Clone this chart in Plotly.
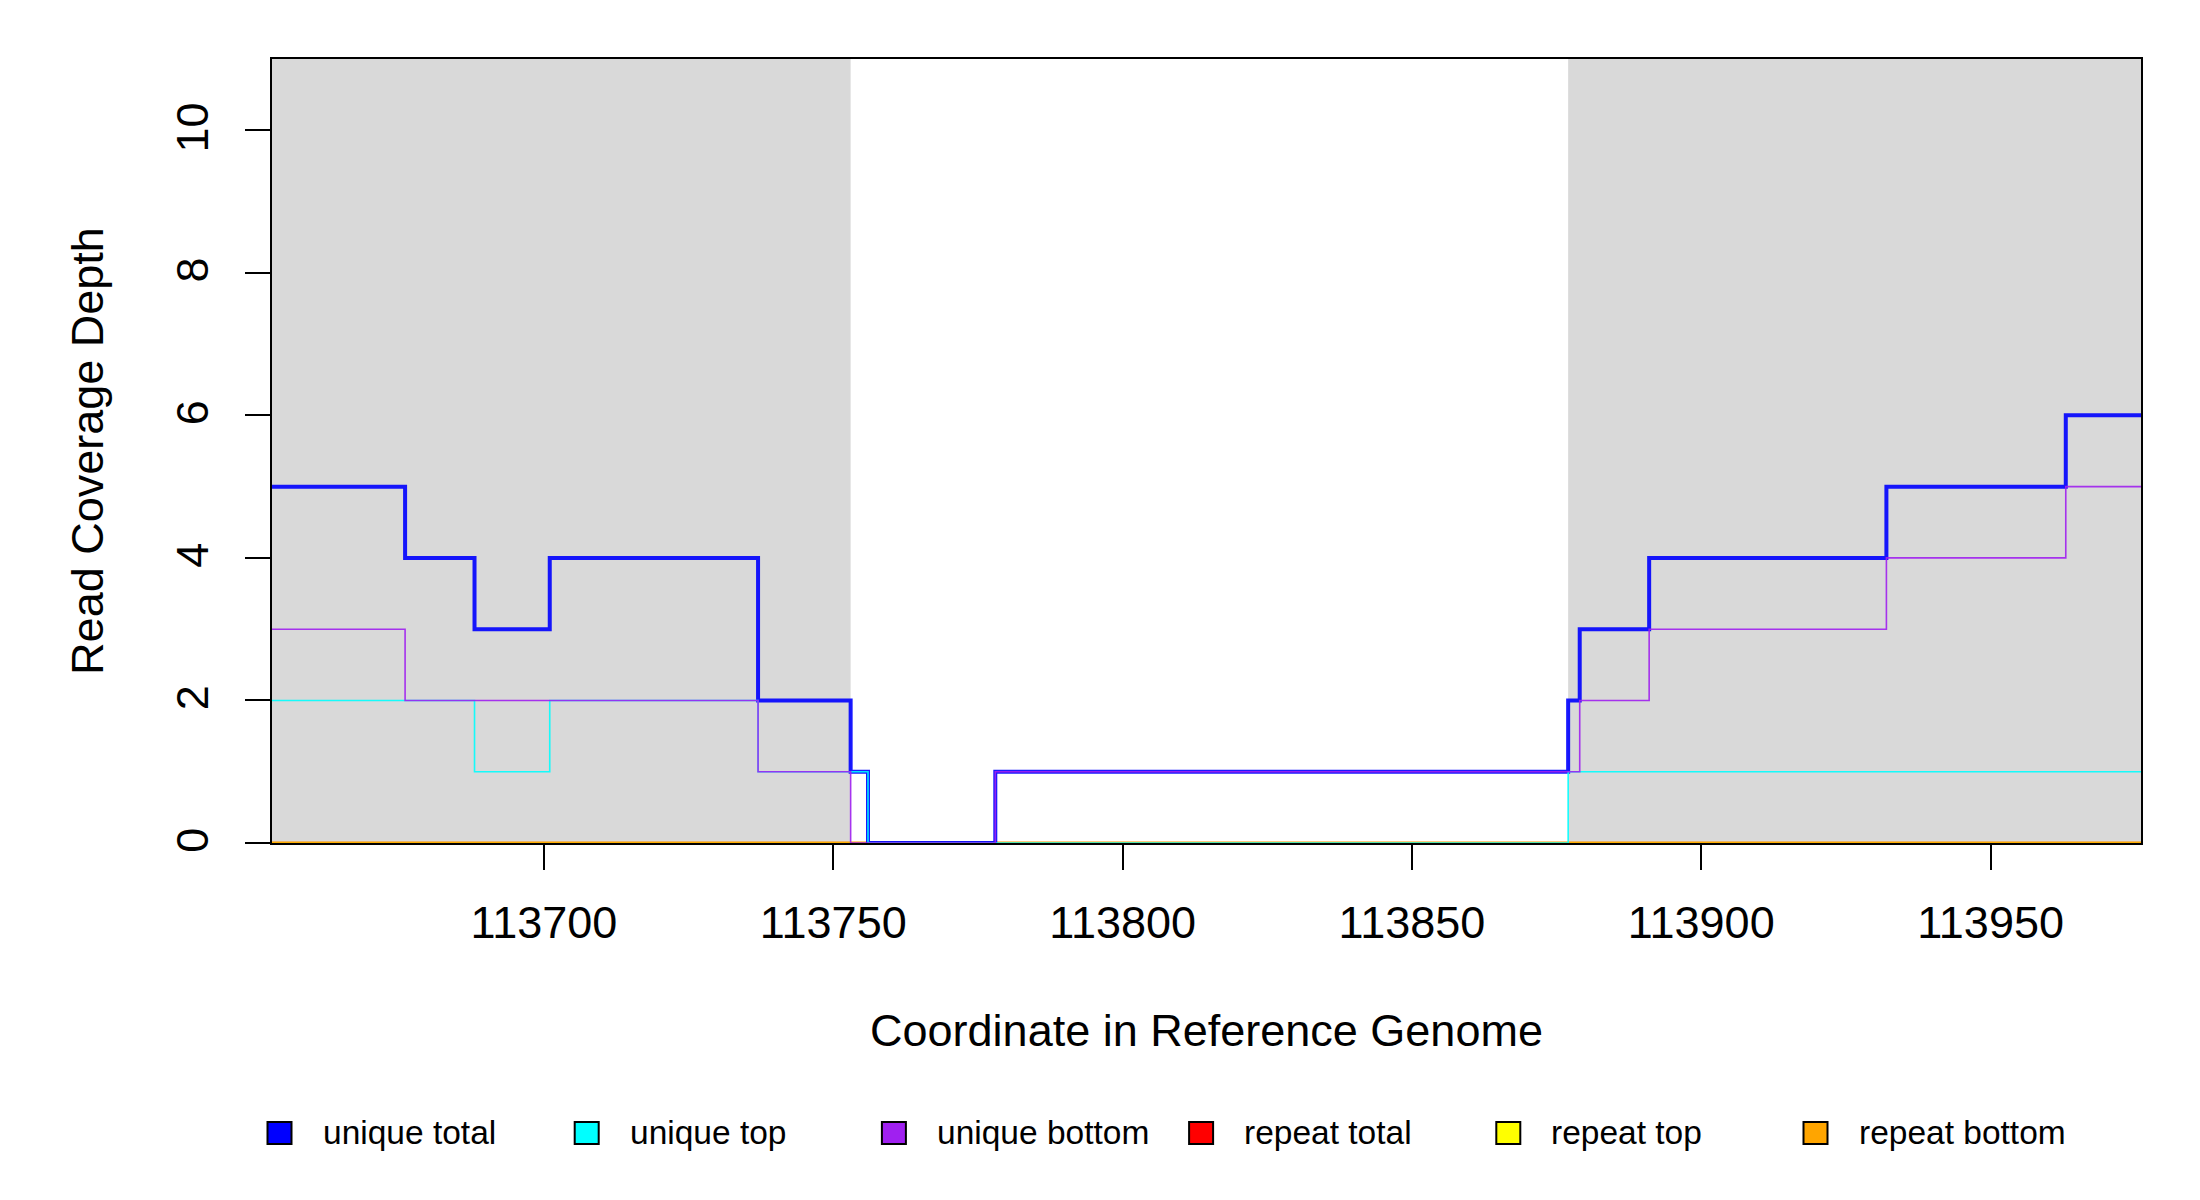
import plotly.graph_objects as go

# ── DATA ─────────────────────────────────────────────────────
# step start positions (last one = right end of window)
positions = [113653, 113676, 113688, 113701, 113737, 113753, 113756,
             113778, 113877, 113879, 113891, 113932, 113963, 113976]

unique_total  = [5, 4, 3, 4, 2, 1, 0, 1, 2, 3, 4, 5, 6, 6]
unique_top    = [2, 2, 1, 2, 1, 1, 0, 0, 1, 1, 1, 1, 1, 1]
unique_bottom = [3, 2, 2, 2, 1, 0, 0, 1, 1, 2, 3, 4, 5, 5]
repeat_total  = [0] * len(positions)
repeat_top    = [0] * len(positions)
repeat_bottom = [0] * len(positions)

# shaded flanking regions (start, end)
flanks = [(113653, 113753), (113877, 113976)]

x_ticks = [113700, 113750, 113800, 113850, 113900, 113950]
y_ticks = [0, 2, 4, 6, 8, 10]

series_names = ["unique total", "unique top", "unique bottom",
                "repeat total", "repeat top", "repeat bottom"]
series_colors = ["#0000FF", "#00FFFF", "#A020F0", "#FF0000", "#FFFF00", "#FFA500"]

FONT = "Liberation Sans, Arial, sans-serif"

# ── LAYOUT GEOMETRY (px) ────────────────────────────────────
W, H = 2200, 1200
M_L, M_R, M_T, M_B = 264, 67, 51, 365
PLOT_W = W - M_L - M_R
PLOT_H = H - M_T - M_B

def px_x(px):
    return (px - M_L) / PLOT_W

def px_y(py):
    return (H - M_B - py) / PLOT_H

fig = go.Figure()

# grey flank boxes
for x0, x1 in flanks:
    fig.add_shape(type="rect", xref="x", yref="paper", x0=x0, x1=x1, y0=0, y1=1,
                  fillcolor="#D9D9D9", line_width=0, layer="below")

# repeat series first (sit under the unique lines)
for vals, name, col in zip([repeat_total, repeat_top, repeat_bottom],
                           series_names[3:], series_colors[3:]):
    fig.add_trace(go.Scatter(x=positions, y=vals, mode="lines", line_shape="hv",
                             line=dict(color=col, width=2.5), opacity=0.85,
                             name=name, showlegend=False, hoverinfo="skip"))

# unique series
for vals, name, col, w in zip([unique_total, unique_top, unique_bottom],
                              series_names[:3], series_colors[:3], [4, 1.6, 1.6]):
    fig.add_trace(go.Scatter(x=positions, y=vals, mode="lines", line_shape="hv",
                             line=dict(color=col, width=w), opacity=0.9,
                             name=name, showlegend=False, hoverinfo="skip"))

# legend row below the plot: filled boxes + labels
LEG_X0, LEG_STEP, LEG_Y = 271.5, 307.2, 1125
BOX_W, BOX_H = 24, 22
for i, (name, col) in enumerate(zip(series_names, series_colors)):
    cx = LEG_X0 + i * LEG_STEP
    fig.add_shape(type="rect", xref="paper", yref="paper",
                  x0=px_x(cx - BOX_W / 2), x1=px_x(cx + BOX_W / 2),
                  y0=px_y(LEG_Y + BOX_H / 2), y1=px_y(LEG_Y - BOX_H / 2),
                  fillcolor=col, line=dict(color="black", width=2))
    fig.add_annotation(xref="paper", yref="paper", x=px_x(cx + 41), y=px_y(LEG_Y - 1),
                       xanchor="left", yanchor="middle", text=name, showarrow=False,
                       font=dict(size=33.5, family=FONT, color="black"))

fig.update_layout(
    width=W, height=H,
    margin=dict(l=M_L, r=M_R, t=M_T, b=M_B, autoexpand=False),
    paper_bgcolor="white", plot_bgcolor="white",
    font=dict(family=FONT, color="black"),
    showlegend=False,
    xaxis=dict(range=[positions[0], positions[-1]], tickvals=x_ticks,
               ticktext=[str(t) for t in x_ticks],
               ticks="outside", ticklen=25, tickwidth=1.5, tickcolor="black",
               showline=True, linecolor="black", linewidth=1.5, mirror=True,
               showgrid=False, zeroline=False, ticklabelstandoff=14,
               tickfont=dict(size=45),
               title=dict(text="Coordinate in Reference Genome", font=dict(size=45),
                          standoff=68)),
    yaxis=dict(range=[0, 11], tickvals=y_ticks, tickangle=-90,
               ticks="outside", ticklen=25, tickwidth=1.5, tickcolor="black",
               showline=True, linecolor="black", linewidth=1.5, mirror=True,
               showgrid=False, zeroline=False, ticklabelstandoff=19,
               ticklabelshift=4, tickfont=dict(size=45),
               title=dict(text="Read Coverage Depth", font=dict(size=45),
                          standoff=50)),
)

fig.write_html("out.html")
